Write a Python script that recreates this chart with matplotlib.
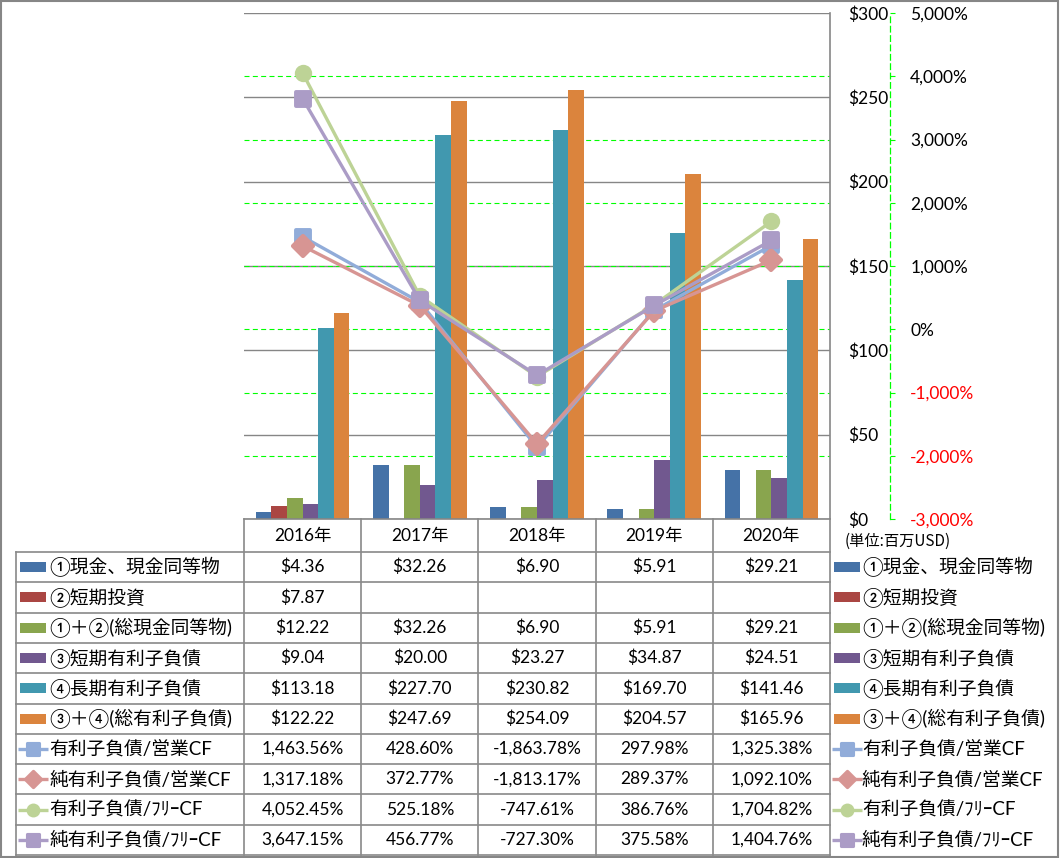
import matplotlib
matplotlib.use("Agg")
import matplotlib.pyplot as plt
from matplotlib.patches import Rectangle
from matplotlib.markers import MarkerStyle
from matplotlib.transforms import blended_transform_factory
import numpy as np

# ---- data (million USD / %) ----
years = ['2016年', '2017年', '2018年', '2019年', '2020年']
cash = [4.36, 32.26, 6.90, 5.91, 29.21]
short_inv = [7.87, None, None, None, None]
total_cash = [12.22, 32.26, 6.90, 5.91, 29.21]
short_debt = [9.04, 20.00, 23.27, 34.87, 24.51]
long_debt = [113.18, 227.70, 230.82, 169.70, 141.46]
total_debt = [122.22, 247.69, 254.09, 204.57, 165.96]

debt_ocf = [1463.56, 428.60, -1863.78, 297.98, 1325.38]
net_debt_ocf = [1317.18, 372.77, -1813.17, 289.37, 1092.10]
debt_fcf = [4052.45, 525.18, -747.61, 386.76, 1704.82]
net_debt_fcf = [3647.15, 456.77, -727.30, 375.58, 1404.76]

bar_names = ['①現金、現金同等物', '②短期投資', '①＋②(総現金同等物)',
             '③短期有利子負債', '④長期有利子負債', '③＋④(総有利子負債)']
bar_series = [cash, short_inv, total_cash, short_debt, long_debt, total_debt]
bar_colors = ['#4572A7', '#AA4643', '#89A54E', '#71588F', '#4198AF', '#DB843D']

line_names = ['有利子負債/営業CF', '純有利子負債/営業CF', '有利子負債/ﾌﾘｰCF', '純有利子負債/ﾌﾘｰCF']
line_series = [debt_ocf, net_debt_ocf, debt_fcf, net_debt_fcf]
line_colors = ['#91ACD9', '#D79593', '#BDD396', '#AB9CC6']
line_markers = ['s', 'D', 'o', 's']
line_ms = [10, 10, 12.5, 10]
line_mew = [2.8, 3, 0, 2.8]

NUM = ['Lato', 'Noto Sans CJK JP', 'DejaVu Sans']
JP = ['Lato', 'Noto Sans CJK JP', 'DejaVu Sans']
plt.rcParams['font.family'] = NUM

W, H = 1061, 858
fig = plt.figure(figsize=(W / 100, H / 100), dpi=100)

# plot area in pixels: x 244..830, y 13..519
ax = fig.add_axes([244 / W, 1 - 519 / H, 586 / W, 506 / H])
x = np.arange(len(years))
bw = 0.133
for j, (vals, c) in enumerate(zip(bar_series, bar_colors)):
    xs = [x[i] + (j - 2.5) * bw for i, v in enumerate(vals) if v is not None]
    hs = [v for v in vals if v is not None]
    ax.bar(xs, hs, width=bw, color=c, zorder=2)

ax2 = ax.twinx()

ax.set_xlim(-0.5, 4.5)
ax.set_ylim(0, 300)
ax.set_yticks(range(0, 301, 50))
ax.set_yticklabels(['$%d' % v for v in range(0, 301, 50)])
ax.yaxis.tick_right()
ax.yaxis.set_label_position('right')
ax.tick_params(axis='y', length=0, pad=13, labelsize=12.5)
ax.set_xticks([])
ax.yaxis.grid(True, color='#868686', lw=1)
ax.set_axisbelow(True)
for s in ['top', 'left']:
    ax.spines[s].set_visible(False)
for s in ['right', 'bottom']:
    ax.spines[s].set_color('#868686')
    ax.spines[s].set_linewidth(1.2)

ax2.set_ylim(-3000, 5000)
pct_ticks = list(range(-3000, 5001, 1000))
ax2.set_yticks(pct_ticks)
for s in ['top', 'left', 'bottom']:
    ax2.spines[s].set_visible(False)
ax2.spines['right'].set_position(('axes', 646 / 586))
ax2.spines['right'].set_color('#00FF00')
ax2.spines['right'].set_linestyle((0, (4.5, 3)))
ax2.spines['right'].set_linewidth(0.9)
ax2.tick_params(axis='y', direction='out', length=3.6, width=0.8, color='#00FF00',
                pad=11, labelsize=12.5)
ax2.set_yticklabels(['{:,}%'.format(v) for v in pct_ticks])

# secondary gridlines behind the bars
trans = blended_transform_factory(ax.transAxes, ax2.transData)
for v in pct_ticks[1:-1]:
    ax.plot([0, 1], [v, v], transform=trans, color='#00FF00', lw=0.8,
            ls=(0, (4.5, 3)), zorder=1)
ax.set_xlim(-0.5, 4.5)
ax.set_ylim(0, 300)


def mstyle(m):
    return MarkerStyle(m, joinstyle='round')


for vals, c, m, ms, mew in zip(line_series, line_colors, line_markers, line_ms, line_mew):
    ax2.plot(x, vals, color=c, lw=2.4, marker=mstyle(m), ms=ms, mfc=c, mec=c, mew=mew)

# ---- data table and legend (pixel overlay) ----
tax = fig.add_axes([0, 0, 1, 1])
tax.set_xlim(0, W)
tax.set_ylim(H, 0)
tax.axis('off')
tax.patch.set_visible(False)

gc = '#898989'
col_edges = np.linspace(244, 830, 6)
row0, rh = 552, 30.3
n_rows = 10
row_edges = [row0 + i * rh for i in range(n_rows + 1)]

for xe in col_edges:
    tax.plot([xe, xe], [519, row_edges[-1]], color=gc, lw=1.2)
tax.plot([16, 16], [row0, row_edges[-1]], color=gc, lw=1.2)
for ye in row_edges:
    tax.plot([16, 830], [ye, ye], color=gc, lw=1.2)

for i, yl in enumerate(years):
    tax.text((col_edges[i] + col_edges[i + 1]) / 2, 536, yl, ha='center', va='center',
             fontsize=12.5, family=JP)

tax.text(845, 541, '(単位:百万USD)', ha='left', va='center', fontsize=11,
         family=['Noto Sans CJK JP', 'DejaVu Sans'])

names = bar_names + line_names
cells = []
for vals in bar_series:
    cells.append(['' if v is None else '${:,.2f}'.format(v) for v in vals])
for vals in line_series:
    cells.append(['{:,.2f}%'.format(v) for v in vals])


def draw_key(k, x0, yc):
    if k < 6:
        tax.add_patch(Rectangle((x0, yc - 5), 26, 10, color=bar_colors[k], lw=0))
    else:
        n = k - 6
        c = line_colors[n]
        tax.plot([x0 - 2, x0 + 28], [yc, yc], color=c, lw=2.4, solid_capstyle='butt')
        tax.plot([x0 + 13], [yc], marker=mstyle(line_markers[n]), ms=line_ms[n] * 0.8,
                 mew=line_mew[n] * 0.8, color=c, mec=c)


for r in range(n_rows):
    yc = row_edges[r] + rh / 2
    draw_key(r, 20, yc)
    tax.text(49, yc, names[r], ha='left', va='center', fontsize=13.5, family=JP)
    for i in range(5):
        tax.text((col_edges[i] + col_edges[i + 1]) / 2, yc, cells[r][i], ha='center',
                 va='center', fontsize=12.5, family=NUM)
    draw_key(r, 834, yc)
    tax.text(862, yc, names[r], ha='left', va='center', fontsize=13.5, family=JP)

tax.add_patch(Rectangle((1, 1), 1057, 856, fill=False, edgecolor='#868686', lw=1.5))

# negative percentages in red
fig.canvas.draw()
for t in ax2.yaxis.get_majorticklabels():
    if t.get_text().startswith('-'):
        t.set_color('#FF0000')

fig.savefig('out.png', dpi=100)
